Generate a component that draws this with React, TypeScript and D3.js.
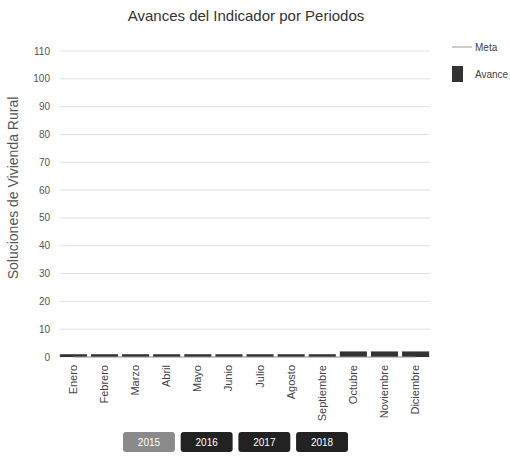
import React from "react";
import * as d3 from "d3";

const months = ["Enero","Febrero","Marzo","Abril","Mayo","Junio","Julio","Agosto","Septiembre","Octubre","Noviembre","Diciembre"];
const avance = [1, 1, 1, 1, 1, 1, 1, 1, 1, 2, 2, 2];
const meta = [0, 0, 0, 0, 0, 0, 0, 0, 0, 0, 0, 0];
const yTicks = [0, 10, 20, 30, 40, 50, 60, 70, 80, 90, 100, 110];
const years = ["2015", "2016", "2017", "2018"];
const activeYear = "2015";

const W = 510, H = 456;
const left = 58, right = 431, top = 51, bottom = 357;
const font = "Arial, 'Liberation Sans', sans-serif";

export default function App() {
  const x = d3.scaleBand<string>().domain(months).range([left, right]).paddingInner(0.13).paddingOuter(0.06);
  const y = d3.scaleLinear().domain([0, 110]).range([bottom, top]);
  const line = d3.line<number>()
    .x((_, i) => (x(months[i]) as number) + x.bandwidth() / 2)
    .y((d) => y(d));
  const bx = d3.scaleBand<string>().domain(years).range([123, 348]).paddingInner(0.1);

  return (
    <svg width={W} height={H} style={{ position: "absolute", left: 0, top: 0, background: "#fff" }}>
      <text x={246} y={21} textAnchor="middle" fontFamily={font} fontSize={15} fill="#333">
        Avances del Indicador por Periodos
      </text>
      {yTicks.map((t) => (
        <g key={t}>
          <line x1={60} x2={430} y1={y(t)} y2={y(t)} stroke="#e2e2e2" strokeWidth={1} />
          <text x={50} y={y(t) + 3.5} textAnchor="end" fontFamily={font} fontSize={10} fill="#555">{t}</text>
        </g>
      ))}
      <text transform={`translate(18,188) rotate(-90)`} textAnchor="middle" fontFamily={font} fontSize={14} fill="#555">
        Soluciones de Vivienda Rural
      </text>
      {months.map((m, i) => (
        <rect key={m} x={x(m)} y={y(avance[i])} width={x.bandwidth()} height={bottom - y(avance[i])} fill="#333" />
      ))}
      <path d={line(meta) || ""} fill="none" stroke="#999" strokeWidth={1} />
      {months.map((m) => (
        <text key={m} transform={`translate(${(x(m) as number) + x.bandwidth() / 2 + 3.5},365) rotate(-90)`} textAnchor="end" fontFamily={font} fontSize={11} fill="#444">
          {m}
        </text>
      ))}
      <line x1={452} x2={472} y1={47} y2={47} stroke="#999" strokeWidth={1} />
      <text x={475} y={50.5} fontFamily={font} fontSize={10} fill="#444">Meta</text>
      <rect x={452} y={66} width={11} height={16} fill="#333" />
      <text x={475} y={77.5} fontFamily={font} fontSize={10} fill="#444">Avance</text>
      {years.map((yr) => (
        <g key={yr}>
          <rect x={bx(yr)} y={432} width={bx.bandwidth()} height={20} rx={3} fill={yr === activeYear ? "#8a8a8a" : "#222"} />
          <text x={(bx(yr) as number) + bx.bandwidth() / 2} y={445.5} textAnchor="middle" fontFamily={font} fontSize={10} fill="#fff">{yr}</text>
        </g>
      ))}
    </svg>
  );
}
